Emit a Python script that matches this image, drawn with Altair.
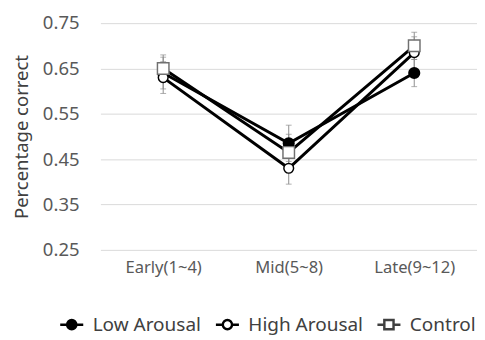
import altair as alt
import pandas as pd

phases = ["Early(1~4)", "Mid(5~8)", "Late(9~12)"]
series_names = ["Low Arousal", "High Arousal", "Control"]
low = [0.64, 0.485, 0.64]
high = [0.63, 0.43, 0.685]
control = [0.65, 0.465, 0.70]
low_err = [0.035, 0.04, 0.03]
high_err = [0.035, 0.035, 0.035]
control_err = [0.03, 0.04, 0.03]
y_ticks = [0.25, 0.35, 0.45, 0.55, 0.65, 0.75]

rows = []
for name, vals, errs in zip(series_names, [low, high, control], [low_err, high_err, control_err]):
    for p, v, e in zip(phases, vals, errs):
        rows.append({"series": name, "phase": p, "value": v, "lo": v - e, "hi": v + e})
df = pd.DataFrame(rows)

FONT = "Noto Sans"

x = alt.X("phase:N", sort=phases, title=None,
          scale=alt.Scale(type="point", padding=0.5),
          axis=alt.Axis(labelAngle=0, labelFontSize=17, labelColor="#595959", ticks=False,
                        domain=False, grid=False, labelPadding=10))
y = alt.Y("value:Q", title="Percentage correct",
          scale=alt.Scale(domain=[0.25, 0.75], nice=False, zero=False),
          axis=alt.Axis(values=y_ticks, format=".2f", labelFontSize=19, labelColor="#595959",
                        ticks=False, domain=False, gridColor="#d9d9d9", gridWidth=1,
                        labelPadding=22, titlePadding=11, titleFontSize=19,
                        titleFontWeight="normal", titleColor="#404040"))

base = alt.Chart(df)

errbars = base.mark_rule(color="#8c8c8c", strokeWidth=1).encode(
    x=x, y=alt.Y("lo:Q"), y2="hi:Q")
caps_lo = base.mark_tick(color="#8c8c8c", thickness=1, size=6).encode(x=x, y=alt.Y("lo:Q"))
caps_hi = base.mark_tick(color="#8c8c8c", thickness=1, size=6).encode(x=x, y=alt.Y("hi:Q"))

lines = base.mark_line(color="black", strokeWidth=3).encode(x=x, y=y, detail="series:N")

pts_low = base.transform_filter(alt.datum.series == "Low Arousal").mark_point(
    shape="circle", filled=True, fill="black", stroke="black", size=110, opacity=1).encode(x=x, y=y)
pts_high = base.transform_filter(alt.datum.series == "High Arousal").mark_point(
    shape="circle", filled=True, fill="white", stroke="black", strokeWidth=1.5, size=100, opacity=1).encode(x=x, y=y)
pts_ctrl = base.transform_filter(alt.datum.series == "Control").mark_point(
    shape="square", filled=True, fill="white", stroke="#707070", strokeWidth=1.5, size=140, opacity=1).encode(x=x, y=y)

circ = "M0.4,0 A0.4,0.4 0 1,1 -0.4,0 A0.4,0.4 0 1,1 0.4,0 Z"
sq = "M-0.4,-0.4 L0.4,-0.4 L0.4,0.4 L-0.4,0.4 Z"
stubs = "M-1,0 L-0.4,0 M0.4,0 L1,0 "
legend_paths = [stubs + circ, stubs + circ, stubs + sq]

legend = alt.Legend(orient="none", legendX=-43, legendY=296, direction="horizontal",
                    title=None, labelFontSize=19.5, labelColor="#404040", symbolSize=560,
                    symbolStrokeWidth=2.5, symbolOpacity=1, columnPadding=9, labelOffset=8)
legend_layer = base.mark_point(opacity=0, filled=True).encode(
    x=x, y=y,
    shape=alt.Shape("series:N", sort=series_names,
                    scale=alt.Scale(domain=series_names, range=legend_paths), legend=legend),
    fill=alt.Fill("series:N", sort=series_names,
                  scale=alt.Scale(domain=series_names, range=["black", "white", "white"]), legend=legend),
    stroke=alt.Stroke("series:N", sort=series_names,
                      scale=alt.Scale(domain=series_names, range=["black", "black", "#404040"]), legend=legend),
)

chart = alt.layer(errbars, caps_lo, caps_hi, lines, pts_low, pts_high, pts_ctrl, legend_layer).properties(
    width=387, height=233, padding={"left": 5, "top": 2, "right": 0, "bottom": 0}
).configure(font=FONT).configure_view(stroke=None)

chart.save("out.html", embed_options={"renderer": "svg", "actions": False})
